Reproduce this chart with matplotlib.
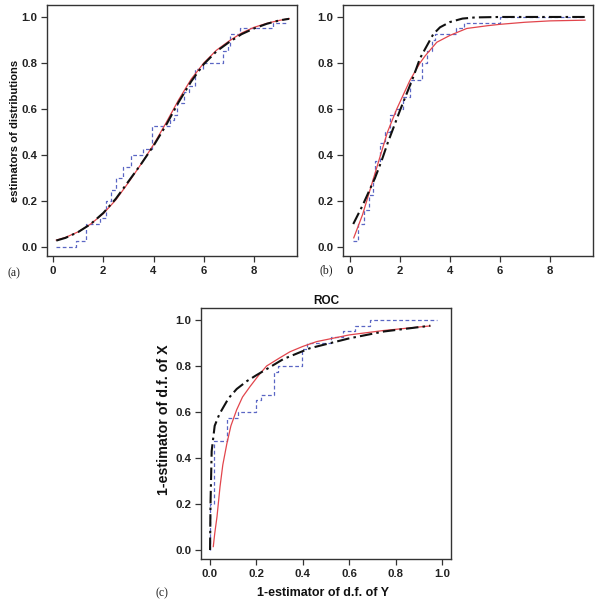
import matplotlib
matplotlib.use("Agg")
import matplotlib.pyplot as plt

# ---------------- data ----------------
# panel (a)
xa_smooth = [0.13, 0.5, 1.0, 1.5, 2.0, 2.5, 3.0, 3.5, 4.0, 4.5, 5.0, 5.5, 6.0, 6.5, 7.0, 7.5, 8.0, 8.5, 9.0, 9.4]
ya_black = [0.028, 0.040, 0.065, 0.100, 0.148, 0.210, 0.285, 0.360, 0.440, 0.530, 0.630, 0.720, 0.795, 0.850, 0.890, 0.925, 0.950, 0.970, 0.985, 0.992]
ya_red = [0.030, 0.042, 0.066, 0.100, 0.145, 0.205, 0.280, 0.360, 0.445, 0.540, 0.640, 0.730, 0.800, 0.855, 0.895, 0.930, 0.955, 0.972, 0.985, 0.993]
xa_step = [0.13, 0.9, 1.3, 1.85, 2.1, 2.3, 2.5, 2.8, 3.1, 3.6, 3.95, 4.65, 4.8, 4.95, 5.2, 5.4, 5.65, 5.95, 6.75, 6.95, 7.05, 7.45, 8.75, 9.35]
ya_step = [0.0, 0.025, 0.1, 0.125, 0.2, 0.25, 0.3, 0.35, 0.4, 0.425, 0.525, 0.55, 0.575, 0.625, 0.675, 0.7, 0.775, 0.8, 0.85, 0.875, 0.925, 0.95, 0.975, 0.975]

# panel (b)
xb_black = [0.13, 0.5, 1.0, 1.27, 1.5, 2.0, 2.5, 2.8, 3.0, 3.33, 3.6, 4.0, 4.5, 5.0, 6.0, 7.0, 8.0, 9.4]
yb_black = [0.10, 0.18, 0.30, 0.377, 0.45, 0.594, 0.73, 0.82, 0.86, 0.925, 0.955, 0.978, 0.993, 0.998, 1.0, 1.0, 1.0, 1.0]
xb_red = [0.15, 0.5, 1.0, 1.5, 1.87, 2.4, 2.8, 3.0, 3.47, 4.0, 4.67, 5.5, 6.0, 7.0, 8.0, 9.4]
yb_red = [0.04, 0.14, 0.32, 0.50, 0.60, 0.725, 0.80, 0.83, 0.89, 0.92, 0.95, 0.962, 0.968, 0.977, 0.983, 0.986]
xb_step = [0.13, 0.3, 0.55, 0.75, 0.9, 1.0, 1.2, 1.4, 1.6, 1.8, 2.1, 2.4, 2.87, 3.07, 3.27, 3.4, 4.25, 4.55, 6.0, 9.35]
yb_step = [0.025, 0.1, 0.16, 0.225, 0.3, 0.375, 0.45, 0.5, 0.575, 0.6, 0.65, 0.725, 0.8, 0.85, 0.9, 0.925, 0.95, 0.975, 1.0, 1.0]

# panel (c) ROC
xc_black = [0.0, 0.002, 0.007, 0.02, 0.04, 0.057, 0.08, 0.115, 0.16, 0.2, 0.25, 0.316, 0.43, 0.6, 0.75, 0.95]
yc_black = [0.0, 0.2, 0.43, 0.54, 0.59, 0.62, 0.66, 0.70, 0.735, 0.76, 0.79, 0.83, 0.877, 0.92, 0.95, 0.975]
xc_red = [0.014, 0.02, 0.03, 0.043, 0.055, 0.072, 0.09, 0.115, 0.14, 0.172, 0.21, 0.244, 0.3, 0.345, 0.4, 0.46, 0.6, 0.747, 0.948]
yc_red = [0.015, 0.07, 0.145, 0.275, 0.37, 0.46, 0.54, 0.61, 0.665, 0.71, 0.76, 0.80, 0.835, 0.862, 0.885, 0.906, 0.935, 0.954, 0.974]
xc_step = [0.0, 0.0, 0.015, 0.072, 0.12, 0.2, 0.22, 0.275, 0.295, 0.395, 0.42, 0.52, 0.575, 0.625, 0.69, 0.977]
yc_step = [0.0, 0.2, 0.475, 0.575, 0.6, 0.65, 0.675, 0.775, 0.8, 0.875, 0.9, 0.925, 0.95, 0.975, 1.0, 1.0]

xticks_ab = [0, 2, 4, 6, 8]
yticks = [0.0, 0.2, 0.4, 0.6, 0.8, 1.0]
xticks_c = [0.0, 0.2, 0.4, 0.6, 0.8, 1.0]

# ---------------- style ----------------
RED = "#e2454c"
BLUE = "#5a66c4"
BLACK = "#111111"
TICKFONT = dict(family="Liberation Sans", weight="bold", size=8.2)

fig = plt.figure(figsize=(6.0, 6.03), dpi=100)

W = 250 / 600
H = 251 / 603
ax_a = fig.add_axes([47 / 600, 1 - 256 / 603, W, H])
ax_b = fig.add_axes([343 / 600, 1 - 256 / 603, W, H])
ax_c = fig.add_axes([201 / 600, 1 - 559 / 603, W, H])


def style(ax, xlim, ylim, xticks, xfmt):
    ax.set_xlim(*xlim)
    ax.set_ylim(*ylim)
    ax.set_xticks(xticks)
    ax.set_yticks(yticks)
    ax.set_xticklabels([xfmt(v) for v in xticks], **TICKFONT, color="#222222")
    ax.set_yticklabels([f"{v:.1f}" for v in yticks], **TICKFONT, color="#222222")
    for s in ax.spines.values():
        s.set_color("#333333")
        s.set_linewidth(1.0)
    ax.tick_params(direction="out", length=4, width=0.9, color="#333333", pad=3)


def draw(ax, xs, ys, xr, yr, xk, yk):
    ax.step(xs, ys, where="post", color=BLUE, lw=0.9, ls=(0, (3, 2)))
    ax.plot(xr, yr, color=RED, lw=0.9)
    ax.plot(xk, yk, color=BLACK, lw=1.5, ls=(0, (6, 2, 1.2, 2)))


draw(ax_a, xa_step, ya_step, xa_smooth, ya_red, xa_smooth, ya_black)
style(ax_a, (-0.24, 9.71), (-0.039, 1.052), xticks_ab, lambda v: f"{v:d}")
ax_a.set_ylabel("estimators of distributions", fontfamily="Liberation Sans",
                fontweight="bold", fontsize=8.1, color="#111111")
ax_a.yaxis.set_label_coords(-(47 - 20) / 250, (256 - 131) / 251)

draw(ax_b, xb_step, yb_step, xb_red, yb_red, xb_black, yb_black)
style(ax_b, (-0.28, 9.72), (-0.039, 1.052), xticks_ab, lambda v: f"{v:d}")

draw(ax_c, xc_step, yc_step, xc_red, yc_red, xc_black, yc_black)
style(ax_c, (-0.039, 1.039), (-0.039, 1.052), xticks_c, lambda v: f"{v:.1f}")
ax_c.set_ylabel("1-estimator of d.f. of X", fontfamily="Liberation Sans",
                fontweight="bold", fontsize=10.3, color="#111111")
ax_c.yaxis.set_label_coords(-(201 - 171) / 250, (559 - 420) / 251)
ax_c.set_xlabel("1-estimator of d.f. of Y", fontfamily="Liberation Sans",
                fontweight="bold", fontsize=9.0, color="#111111")
ax_c.xaxis.set_label_coords((323 - 201) / 250, -(587 - 559) / 251)
ax_c.set_title("ROC", fontfamily="Liberation Sans", fontweight="bold",
               fontsize=8.5, pad=3, color="#111111")

serif = dict(family="Liberation Serif", size=8.5, color="#222222")
fig.text(7 / 600, 1 - 273 / 603, "(a)", va="center", ha="left", **serif)
fig.text(319 / 600, 1 - 270 / 603, "(b)", va="center", ha="left", **serif)
fig.text(156 / 600, 1 - 593 / 603, "(c)", va="center", ha="left", **serif)

fig.savefig("out.png", dpi=100)
